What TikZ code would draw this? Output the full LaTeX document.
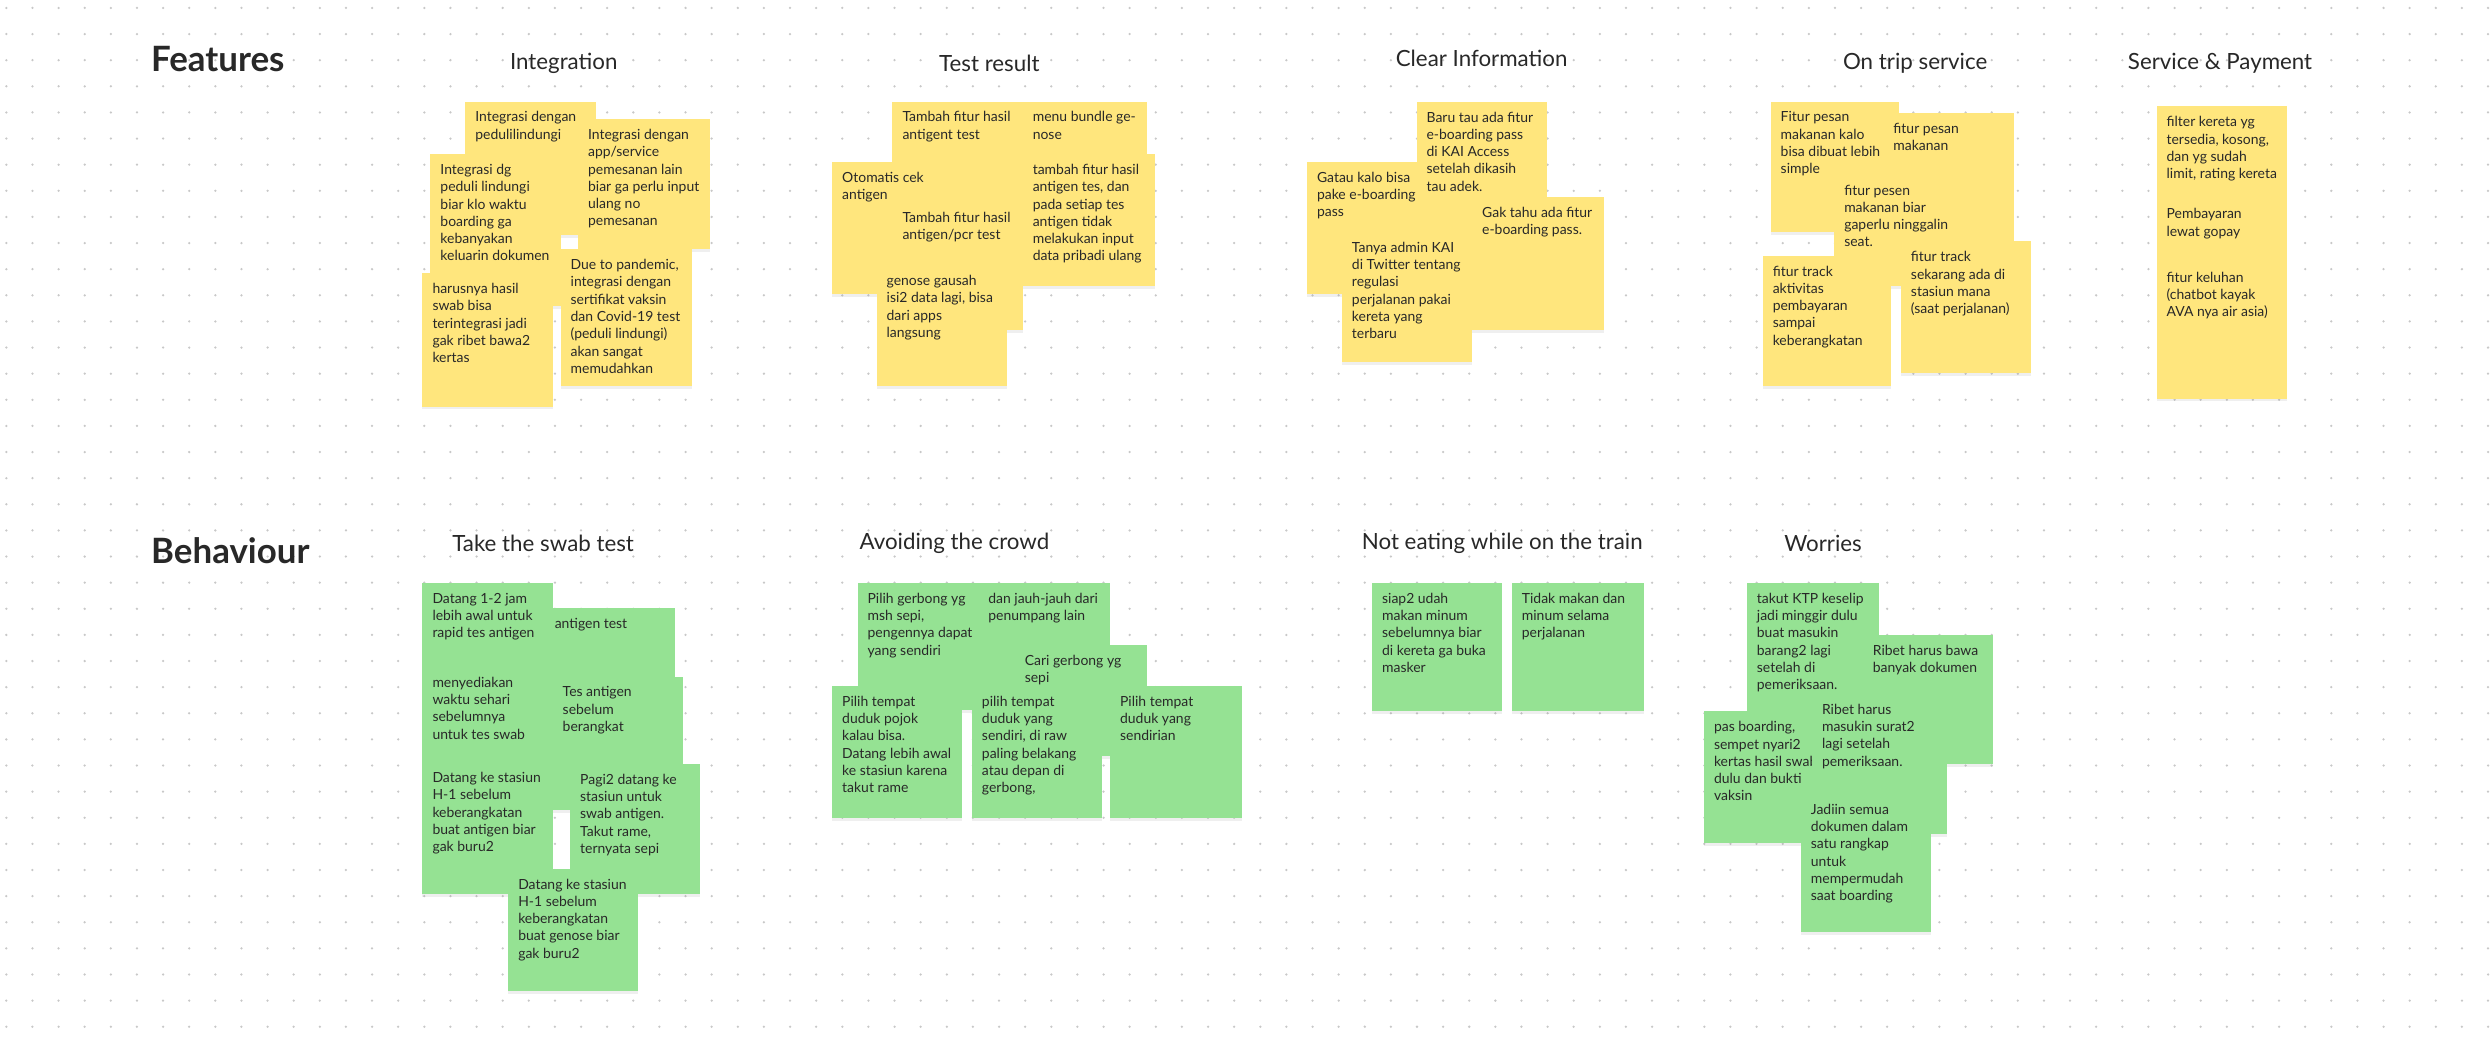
\documentclass[tikz,border=0pt]{standalone}
\usepackage{fontspec}
\setmainfont{Lato}
\usetikzlibrary{shadows}
\definecolor{stickyY}{RGB}{255,230,125}
\definecolor{stickyG}{RGB}{149,226,147}
\definecolor{dotgray}{RGB}{200,200,200}
\definecolor{inkgray}{RGB}{40,40,40}
% sticky note: colour, name, x, y, width, height, text
\newcommand{\stick}[7]{%
  \fill[#1, drop shadow={opacity=0.12,shadow xshift=0pt,shadow yshift=-1pt}] (#3,#4) rectangle ++(#5,#6);
  \node[notetext] (#2) at (#3+6,#4+6) {#7};}
\tikzset{
  notetext/.style={anchor=north west, inner sep=0pt, align=left, text=inkgray,
    font=\fontsize{5}{6.2}\selectfont},
  rowtitle/.style={anchor=west, text=inkgray, font=\fontsize{12.5}{14}\selectfont\bfseries},
  grouptitle/.style={text=inkgray, font=\fontsize{8}{10}\selectfont}
}
\begin{document}
\begin{tikzpicture}[x=0.02cm,y=-0.02cm]
\useasboundingbox (0,0) rectangle (1568,660);
\fill[white] (0,0) rectangle (1568,660);
\foreach \i in {0,...,95}
  \foreach \j in {0,...,40}
    \fill[dotgray] (4+\i*16.45,5+\j*16.45) circle (0.45pt);

\node[rowtitle] (features) at (89,37) {Features};
\node[rowtitle] (behaviour) at (89,347) {Behaviour};

\node[grouptitle] (integration) at (355,40) {Integration};
\node[grouptitle] (testresult) at (623,40) {Test result};
\node[grouptitle] (clearinfo) at (933,37) {Clear Information};
\node[grouptitle] (ontrip) at (1206,40) {On trip service};
\node[grouptitle] (payment) at (1398,40) {Service \& Payment};
\node[grouptitle] (swab) at (342,342) {Take the swab test};
\node[grouptitle] (crowd) at (601,342) {Avoiding the crowd};
\node[grouptitle] (noteating) at (946,342) {Not eating while on the train};
\node[grouptitle] (worries) at (1148,342) {Worries};

% Integration
\stick{stickyY}{intA}{293}{64}{82}{84}{Integrasi dengan\\pedulilindungi}
\stick{stickyY}{intB}{271}{97}{82}{96}{Integrasi dg\\peduli lindungi\\biar klo waktu\\boarding ga\\kebanyakan\\keluarin dokumen}
\stick{stickyY}{intC}{364}{75}{83}{82}{Integrasi dengan\\app/service\\pemesanan lain\\biar ga perlu input\\ulang no\\pemesanan}
\stick{stickyY}{intD}{353}{157}{83}{86}{Due to pandemic,\\integrasi dengan\\sertifikat vaksin\\dan Covid-19 test\\(peduli lindungi)\\akan sangat\\memudahkan}
\stick{stickyY}{intE}{266}{172}{82}{84}{harusnya hasil\\swab bisa\\terintegrasi jadi\\gak ribet bawa2\\kertas}

% Test result
\stick{stickyY}{tesF}{562}{64}{82}{84}{Tambah fitur hasil\\antigent test}
\stick{stickyY}{tesG}{644}{64}{78}{84}{menu bundle ge-\\nose}
\stick{stickyY}{tesH}{524}{102}{82}{83}{Otomatis cek\\antigen}
\stick{stickyY}{tesI}{562}{127}{82}{81}{Tambah fitur hasil\\antigen/pcr test}
\stick{stickyY}{tesJ}{644}{97}{83}{83}{tambah fitur hasil\\antigen tes, dan\\pada setiap tes\\antigen tidak\\melakukan input\\data pribadi ulang}
\stick{stickyY}{tesK}{552}{167}{82}{76}{genose gausah\\isi2 data lagi, bisa\\dari apps\\langsung}

% Clear Information
\stick{stickyY}{infL}{823}{102}{82}{83}{Gatau kalo bisa\\pake e-boarding\\pass}
\stick{stickyY}{infM}{892}{64}{82}{86}{Baru tau ada fitur\\e-boarding pass\\di KAI Access\\setelah dikasih\\tau adek.}
\stick{stickyY}{infN}{927}{124}{83}{84}{Gak tahu ada fitur\\e-boarding pass.}
\stick{stickyY}{infO}{845}{146}{82}{82}{Tanya admin KAI\\di Twitter tentang\\regulasi\\perjalanan pakai\\kereta yang\\terbaru}

% On trip service
\stick{stickyY}{tripP}{1115}{64}{81}{82}{Fitur pesan\\makanan kalo\\bisa dibuat lebih\\simple}
\stick{stickyY}{tripQ}{1186}{71}{82}{86}{fitur pesan\\makanan}
\stick{stickyY}{tripR}{1155}{110}{81}{70}{fitur pesen\\makanan biar\\gaperlu ninggalin\\seat.}
\stick{stickyY}{tripS}{1110}{161}{81}{82}{fitur track\\aktivitas\\pembayaran\\sampai\\keberangkatan}
\stick{stickyY}{tripT}{1197}{152}{82}{83}{fitur track\\sekarang ada di\\stasiun mana\\(saat perjalanan)}

% Service & Payment
\stick{stickyY}{payU}{1358}{67}{82}{68}{filter kereta yg\\tersedia, kosong,\\dan yg sudah\\limit, rating kereta}
\stick{stickyY}{payV}{1358}{125}{82}{60}{Pembayaran\\lewat gopay}
\stick{stickyY}{payW}{1358}{165}{82}{86}{fitur keluhan\\(chatbot kayak\\AVA nya air asia)}

% Take the swab test
\stick{stickyG}{swbA}{266}{367}{82}{84}{Datang 1-2 jam\\lebih awal untuk\\rapid tes antigen}
\stick{stickyG}{swbB}{343}{383}{82}{78}{antigen test}
\stick{stickyG}{swbC}{266}{420}{82}{90}{menyediakan\\waktu sehari\\sebelumnya\\untuk tes swab}
\stick{stickyG}{swbD}{348}{426}{82}{84}{Tes antigen\\sebelum\\berangkat}
\stick{stickyG}{swbE}{266}{480}{82}{83}{Datang ke stasiun\\H-1 sebelum\\keberangkatan\\buat antigen biar\\gak buru2}
\stick{stickyG}{swbF}{359}{481}{82}{82}{Pagi2 datang ke\\stasiun untuk\\swab antigen.\\Takut rame,\\ternyata sepi}
\stick{stickyG}{swbG}{320}{547}{82}{77}{Datang ke stasiun\\H-1 sebelum\\keberangkatan\\buat genose biar\\gak buru2}

% Avoiding the crowd
\stick{stickyG}{crwH}{540}{367}{82}{80}{Pilih gerbong yg\\msh sepi,\\pengennya dapat\\yang sendiri}
\stick{stickyG}{crwI}{616}{367}{83}{80}{dan jauh-jauh dari\\penumpang lain}
\stick{stickyG}{crwJ}{639}{406}{83}{70}{Cari gerbong yg\\sepi}
\stick{stickyG}{crwK}{524}{432}{82}{83}{Pilih tempat\\duduk pojok\\kalau bisa.\\Datang lebih awal\\ke stasiun karena\\takut rame}
\stick{stickyG}{crwL}{612}{432}{82}{83}{pilih tempat\\duduk yang\\sendiri, di raw\\paling belakang\\atau depan di\\gerbong,}
\stick{stickyG}{crwM}{699}{432}{83}{83}{Pilih tempat\\duduk yang\\sendirian}

% Not eating while on the train
\stick{stickyG}{eatN}{864}{367}{82}{81}{siap2 udah\\makan minum\\sebelumnya biar\\di kereta ga buka\\masker}
\stick{stickyG}{eatO}{952}{367}{83}{81}{Tidak makan dan\\minum selama\\perjalanan}

% Worries
\stick{stickyG}{worP}{1100}{367}{83}{84}{takut KTP keselip\\jadi minggir dulu\\buat masukin\\barang2 lagi\\setelah di\\pemeriksaan.}
\stick{stickyG}{worQ}{1173}{400}{82}{81}{Ribet harus bawa\\banyak dokumen}
\stick{stickyG}{worR}{1073}{448}{82}{83}{pas boarding,\\sempet nyari2\\kertas hasil swab\\dulu dan bukti\\vaksin}
\stick{stickyG}{worS}{1141}{437}{85}{88}{Ribet harus\\masukin surat2\\lagi setelah\\pemeriksaan.}
\stick{stickyG}{worT}{1134}{500}{82}{87}{Jadiin semua\\dokumen dalam\\satu rangkap\\untuk\\mempermudah\\saat boarding}
\end{tikzpicture}
\end{document}
